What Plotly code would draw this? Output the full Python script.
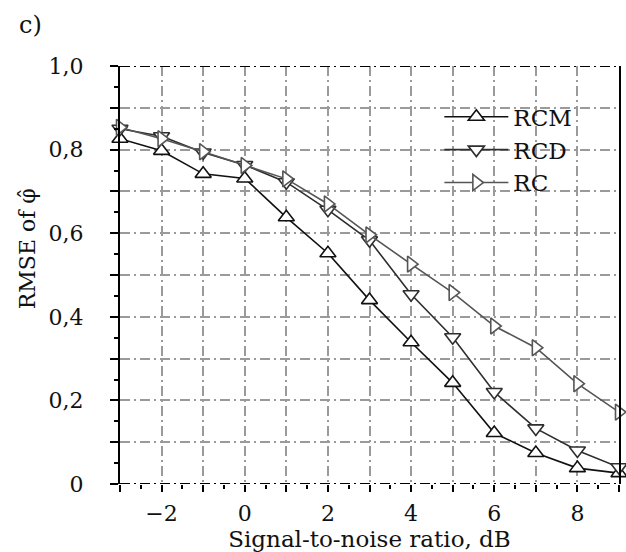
import plotly.graph_objects as go

snr = [-3, -2, -1, 0, 1, 2, 3, 4, 5, 6, 7, 8, 9]
rcm = [0.826, 0.797, 0.742, 0.731, 0.638, 0.552, 0.440, 0.339, 0.242, 0.122, 0.074, 0.038, 0.026]
rcd = [0.850, 0.832, 0.793, 0.763, 0.722, 0.656, 0.583, 0.454, 0.351, 0.220, 0.133, 0.080, 0.040]
rc = [0.853, 0.826, 0.795, 0.762, 0.730, 0.670, 0.596, 0.526, 0.458, 0.378, 0.326, 0.240, 0.172]

x_tickvals = [-3, -2, -1, 0, 1, 2, 3, 4, 5, 6, 7, 8, 9]
x_ticktext = ["", "−2", "", "0", "", "2", "", "4", "", "6", "", "8", ""]
y_tickvals = [0, 0.1, 0.2, 0.3, 0.4, 0.5, 0.6, 0.7, 0.8, 0.9, 1.0]
y_ticktext = ["0", "", "0,2", "", "0,4", "", "0,6", "", "0,8", "", "1,0"]

FONT = "DejaVu Serif"
GRID = "#9a9a9a"
DASH = "10px,4px,2px,4px"

series = [
    ("RCM", rcm, "triangle-up", "#111111"),
    ("RCD", rcd, "triangle-down", "#2e2e2e"),
    ("RC", rc, "triangle-right", "#555555"),
]

fig = go.Figure()
for name, vals, sym, col in series:
    fig.add_trace(go.Scatter(
        x=snr, y=vals, name=name, mode="lines+markers",
        line=dict(color=col, width=1.6),
        marker=dict(symbol=sym, size=14, color="white", line=dict(color=col, width=1.6)),
        cliponaxis=False,
    ))

fig.update_layout(
    width=626, height=552,
    margin=dict(l=120, r=5, t=66, b=68),
    paper_bgcolor="white", plot_bgcolor="white",
    font=dict(family=FONT, size=20, color="#111"),
    showlegend=True,
    legend=dict(x=0.64, y=0.93, xanchor="left", yanchor="top",
                bgcolor="rgba(0,0,0,0)", font=dict(family=FONT, size=23),
                itemwidth=64, tracegroupgap=0),
    xaxis=dict(
        range=[-3, 9], tickmode="array", tickvals=x_tickvals, ticktext=x_ticktext,
        ticks="outside", ticklen=7, tickwidth=1.5, tickcolor="black",
        minor=dict(dtick=0.5, ticks="outside", ticklen=4, tickcolor="black", showgrid=False),
        showgrid=True, gridcolor=GRID, gridwidth=1.5, griddash=DASH,
        showline=False, zeroline=False,
        title=dict(text="Signal-to-noise ratio, dB", font=dict(size=23), standoff=0),
        tickfont=dict(size=22),
        ticklabelstandoff=3,
    ),
    yaxis=dict(
        range=[0, 1.0], tickmode="array", tickvals=y_tickvals, ticktext=y_ticktext,
        ticks="outside", ticklen=8, tickwidth=1.5, tickcolor="black",
        minor=dict(dtick=0.05, ticks="outside", ticklen=4, tickcolor="black", showgrid=False),
        showgrid=True, gridcolor=GRID, gridwidth=1.5, griddash=DASH,
        showline=True, linecolor="black", linewidth=2, mirror=True,
        zeroline=False,
        tickfont=dict(size=22),
        ticklabelstandoff=22,
    ),
)

for yv in [0, 1.0]:
    fig.add_shape(type="line", xref="paper", yref="y", x0=0, x1=1, y0=yv, y1=yv,
                  line=dict(color="black", width=2, dash=DASH), layer="above")

fig.add_annotation(text="RMSE of φ\u0302", xref="paper", yref="paper", x=-0.186, y=0.562,
                   xanchor="center", yanchor="middle", textangle=-90, showarrow=False,
                   font=dict(family=FONT, size=22))

fig.add_annotation(text="c)", xref="paper", yref="paper", x=-0.206, y=1.098,
                   xanchor="left", yanchor="middle", showarrow=False,
                   font=dict(family=FONT, size=24))

fig.write_html("out.html")
